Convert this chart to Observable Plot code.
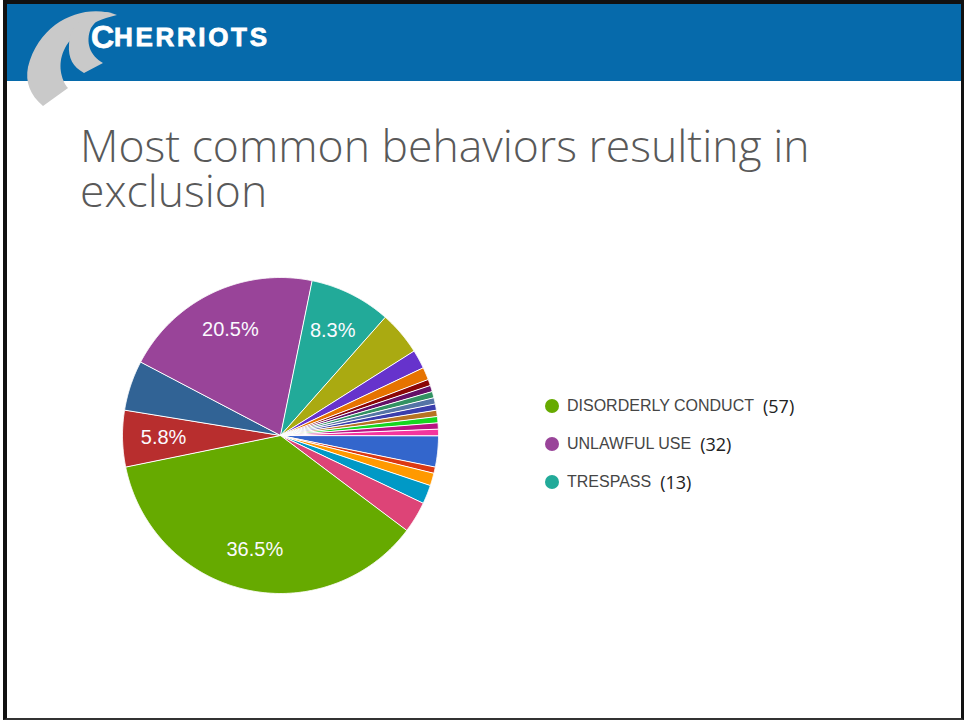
<!DOCTYPE html>
<html>
<head>
<meta charset="utf-8">
<script src="https://cdn.jsdelivr.net/npm/d3@7"></script>
<script src="https://cdn.jsdelivr.net/npm/@observablehq/plot@0.6"></script>
<style>
html,body{margin:0;padding:0;background:#fff;}
#page{position:relative;width:964px;height:721px;overflow:hidden;background:#fff;}
#frame{position:absolute;left:3px;top:0;width:961px;height:720px;box-sizing:border-box;border-left:4px solid #111;border-top:4px solid #111;border-right:3px solid #111;border-bottom:2px solid #333;}
#header{position:absolute;left:7px;top:4px;width:954px;height:77px;background:#066aab;}
#logo{position:absolute;left:0;top:0;}
#title{position:absolute;left:80px;top:122px;font-family:"Open Sans";font-weight:300;font-size:44.5px;line-height:45px;color:#595959;white-space:nowrap;}
#chart{position:absolute;left:100px;top:255px;}
#legend{position:absolute;left:545px;top:387px;}
.row{display:flex;align-items:center;height:38px;}
.dot{width:14px;height:14px;border-radius:50%;margin-right:8px;}
.lab{font-family:"Liberation Sans",Arial,sans-serif;font-size:16px;color:#454545;}
.cnt{font-family:"Open Sans",sans-serif;font-size:18px;color:#222;margin-left:9px;}
</style>
</head>
<body>
<div id="page">
  <div id="header"></div>
  <div id="frame"></div>
  <svg id="logo" width="300" height="115">
    <path d="M117 15 C 85 3, 40 20, 28 67 C 25 82, 30 95, 43 106 L 68 88 C 54 70, 55 30, 117 15 Z" fill="#c9c9c9"/>
    <path d="M112 13 C 90 8, 70 22, 69 45 C 68 58, 73 67, 84 73 L 103 63 C 90 56, 85 42, 91 28 C 96 20, 104 15, 112 13 Z" fill="#c9c9c9"/>
    <text x="91" y="47.5" font-family="Liberation Sans, Arial" font-weight="bold" font-size="32" fill="#fff" stroke="#fff" stroke-width="0.8">C</text>
    <text x="114" y="46" font-family="Liberation Sans, Arial" font-weight="bold" font-size="26" fill="#fff" stroke="#fff" stroke-width="0.8" textLength="153" lengthAdjust="spacing">HERRIOTS</text>
  </svg>
  <div id="title">Most common behaviors resulting in<br>exclusion</div>
  <div id="chart"></div>
  <div id="legend"></div>
</div>
<script>
// Slices in drawing order (clockwise from 3 o'clock)
const categories = [
  "BEHAVIOR A", "BEHAVIOR B", "BEHAVIOR C", "BEHAVIOR D", "BEHAVIOR E",
  "DISORDERLY CONDUCT", "BEHAVIOR F", "BEHAVIOR G", "UNLAWFUL USE", "TRESPASS",
  "BEHAVIOR H", "BEHAVIOR I", "BEHAVIOR J", "BEHAVIOR K", "BEHAVIOR L",
  "BEHAVIOR M", "BEHAVIOR N", "BEHAVIOR O", "BEHAVIOR P", "BEHAVIOR Q",
  "BEHAVIOR R", "BEHAVIOR S"
];
const counts = [5, 1, 2, 3, 5, 57, 9, 8, 32, 13, 7, 3, 2, 1, 1, 1, 1, 1, 1, 1, 1, 1];
const colors = [
  "#3366cc", "#dc3912", "#ff9900", "#0099c6", "#dd4477",
  "#66aa00", "#b82e2e", "#316395", "#994499", "#22aa99",
  "#aaaa11", "#6633cc", "#e67300", "#8b0707", "#651067",
  "#329262", "#5574a6", "#3b3eac", "#b77322", "#16d620",
  "#b91383", "#f4359e"
];
const labeled = ["DISORDERLY CONDUCT", "UNLAWFUL USE", "TRESPASS", "BEHAVIOR F"];
const legendCount = 3;

const total = d3.sum(counts);
const arcs = d3.pie().sort(null).startAngle(Math.PI / 2).endAngle(Math.PI / 2 + 2 * Math.PI)(counts);
const pt = (a, r = 1) => [r * Math.sin(a), -r * Math.cos(a)];

const slices = arcs.map((p, i) => {
  const n = Math.max(4, Math.ceil((p.endAngle - p.startAngle) / 0.005));
  const ring = [[0, 0]];
  for (let k = 0; k <= n; k++) ring.push(pt(p.startAngle + (p.endAngle - p.startAngle) * k / n));
  ring.push([0, 0]);
  return {type: "Feature", properties: {category: categories[i]}, geometry: {type: "Polygon", coordinates: [ring]}};
});

const labels = arcs.map((p, i) => {
  const [x, y] = pt((p.startAngle + p.endAngle) / 2, 0.74);
  return {x, y, category: categories[i], label: (counts[i] / total * 100).toFixed(1) + "%"};
}).filter(d => labeled.includes(d.category));

const chart = Plot.plot({
  width: 360,
  height: 360,
  margin: 0,
  projection: {type: "identity", domain: {type: "FeatureCollection", features: slices}, inset: 22},
  color: {domain: categories, range: colors},
  marks: [
    Plot.geo(slices, {fill: d => d.properties.category, stroke: "white", strokeWidth: 1}),
    Plot.text(labels, {x: "x", y: "y", text: "label", fill: "#fbfaff", fontSize: 20, fontFamily: "Liberation Sans, Arial, sans-serif"})
  ]
});
document.getElementById("chart").appendChild(chart);

// Legend (top entries by count)
const topEntries = categories.map((c, i) => ({c, n: counts[i], col: colors[i]}))
  .sort((a, b) => b.n - a.n).slice(0, legendCount);
const legendEl = document.getElementById("legend");
for (const t of topEntries) {
  const row = document.createElement("div");
  row.className = "row";
  row.innerHTML = `<span class="dot" style="background:${t.col}"></span><span class="lab">${t.c}</span><span class="cnt">(${t.n})</span>`;
  legendEl.appendChild(row);
}
</script>
</body>
</html>
